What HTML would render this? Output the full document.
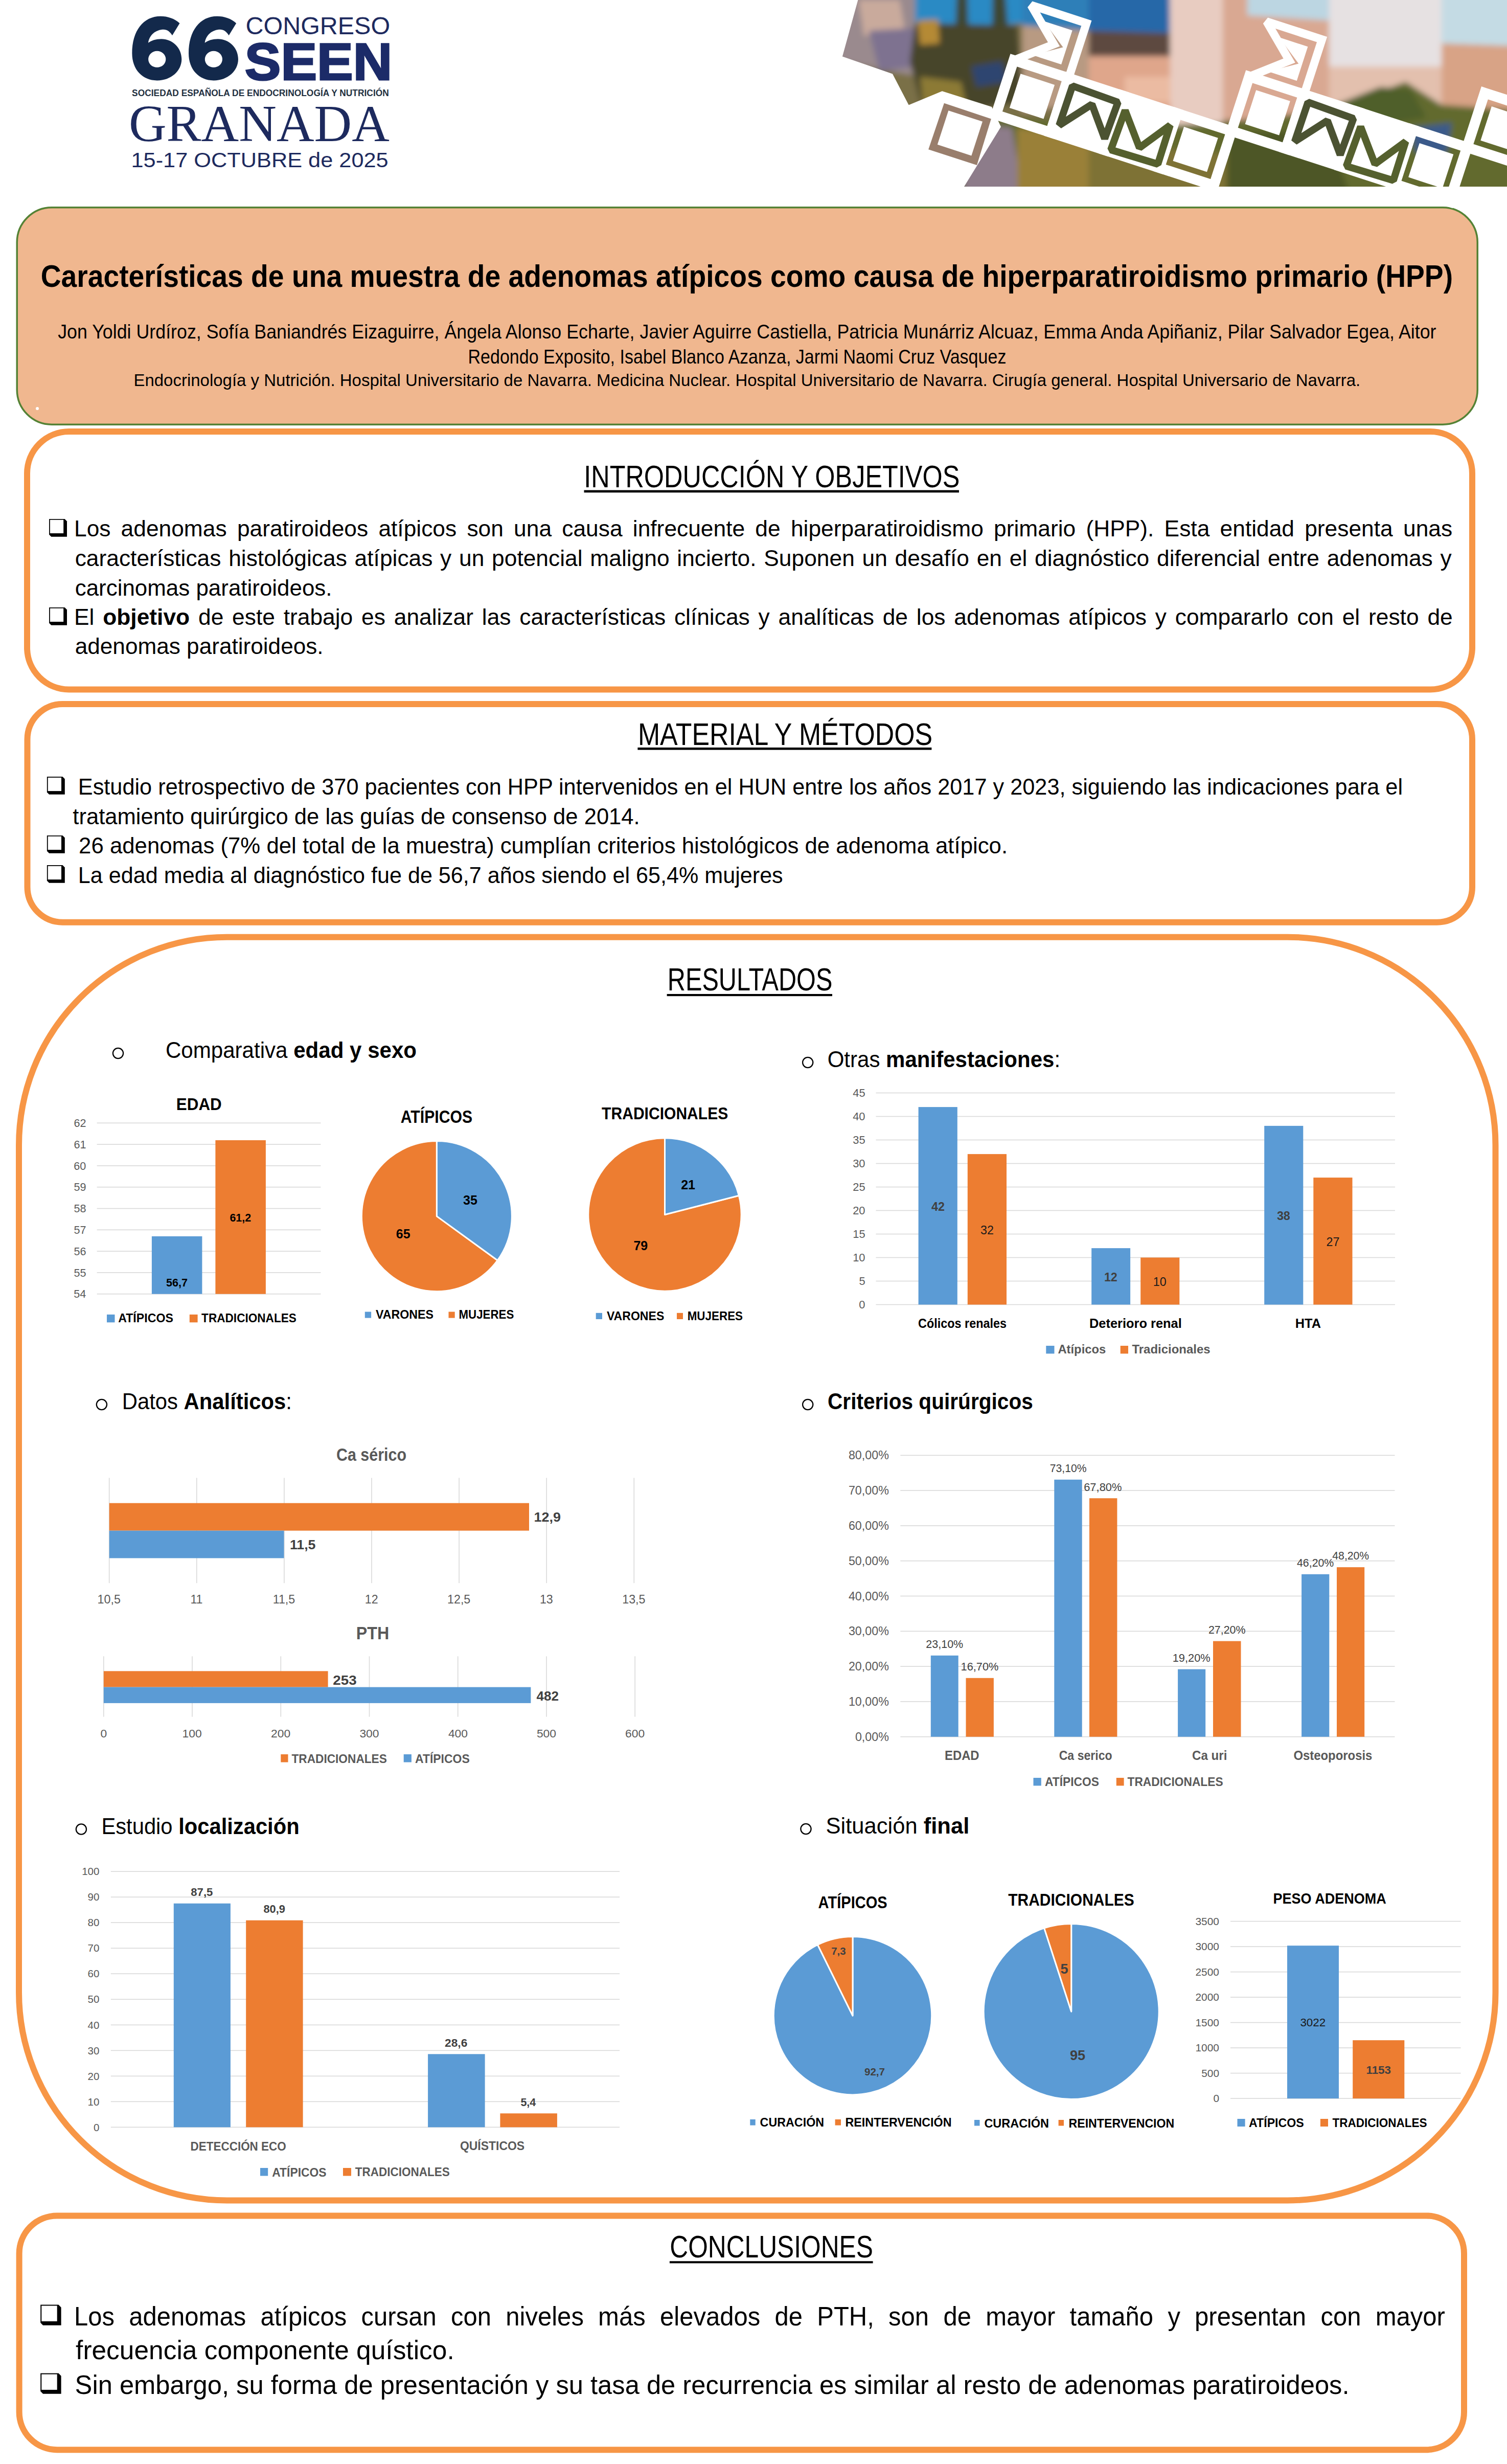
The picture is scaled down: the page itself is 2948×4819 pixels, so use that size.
<!DOCTYPE html>
<html lang="es"><head><meta charset="utf-8"><title>Poster SEEN 2025 - Adenomas atípicos</title>
<style>
html,body{margin:0;padding:0;background:#fff;}
body{width:2948px;height:4819px;overflow:hidden;position:relative;}
svg{position:absolute;left:0;top:0;font-family:"Liberation Sans",sans-serif;}
</style></head><body>
<svg width="2948" height="4819" viewBox="0 0 2948 4819">
<rect width="2948" height="4819" fill="#fff"/>
<rect x="33.25" y="405.75" width="2857" height="424.5" rx="68" fill="#F0B78F" stroke="#548235" stroke-width="3.5"/>
<circle cx="73" cy="799" r="3" fill="#fff"/>
<rect x="53" y="844" width="2827" height="504.4" rx="82" fill="none" stroke="#F79646" stroke-width="12"/>
<rect x="53.5" y="1377" width="2826.5" height="426.8" rx="69" fill="none" stroke="#F79646" stroke-width="12"/>
<rect x="37" y="1832.7" width="2888.5" height="2470.8" rx="407" fill="none" stroke="#F79646" stroke-width="12"/>
<rect x="37.6" y="4333.4" width="2826.4" height="457.8" rx="74" fill="none" stroke="#F79646" stroke-width="12"/>
<text x="79.7" y="561.0" font-size="61.34" font-weight="bold" textLength="2762.4" lengthAdjust="spacingAndGlyphs" >Características de una muestra de adenomas atípicos como causa de hiperparatiroidismo primario (HPP)</text>
<text x="113.2" y="661.8" font-size="38.23" textLength="2696.3" lengthAdjust="spacingAndGlyphs" >Jon Yoldi Urdíroz, Sofía Baniandrés Eizaguirre, Ángela Alonso Echarte, Javier Aguirre Castiella, Patricia Munárriz Alcuaz, Emma Anda Apiñaniz, Pilar Salvador Egea, Aitor</text>
<text x="915.5" y="710.6" font-size="38.23" textLength="1052.9" lengthAdjust="spacingAndGlyphs" >Redondo Exposito, Isabel Blanco Azanza, Jarmi Naomi Cruz Vasquez</text>
<text x="261.4" y="754.8" font-size="33.14" textLength="2399.9" lengthAdjust="spacingAndGlyphs" >Endocrinología y Nutrición. Hospital Universitario de Navarra. Medicina Nuclear. Hospital Universitario de Navarra. Cirugía general. Hospital Universario de Navarra.</text>
<text x="1142.2" y="952.7" font-size="61.05" textLength="735.2" lengthAdjust="spacingAndGlyphs" >INTRODUCCIÓN Y OBJETIVOS</text>
<rect x="1142.5" y="958.6" width="733.5" height="4.7" fill="#000"/>
<polygon points="96.1,1015.0 126.6,1015.0 131.0,1019.5 131.0,1049.8 100.3,1049.8 96.1,1045.4" fill="#000"/><rect x="97.9" y="1016.7" width="26.3" height="26.3" fill="#fff"/>
<text x="145.0" y="1049.3" font-size="44.33">Los</text>
<text x="236.6" y="1049.3" font-size="44.33">adenomas</text>
<text x="463.9" y="1049.3" font-size="44.33">paratiroideos</text>
<text x="740.4" y="1049.3" font-size="44.33">atípicos</text>
<text x="913.4" y="1049.3" font-size="44.33">son</text>
<text x="1005.1" y="1049.3" font-size="44.33">una</text>
<text x="1099.3" y="1049.3" font-size="44.33">causa</text>
<text x="1237.8" y="1049.3" font-size="44.33">infrecuente</text>
<text x="1477.3" y="1049.3" font-size="44.33">de</text>
<text x="1546.9" y="1049.3" font-size="44.33">hiperparatiroidismo</text>
<text x="1944.1" y="1049.3" font-size="44.33">primario</text>
<text x="2124.4" y="1049.3" font-size="44.33">(HPP).</text>
<text x="2277.6" y="1049.3" font-size="44.33">Esta</text>
<text x="2386.6" y="1049.3" font-size="44.33">entidad</text>
<text x="2552.2" y="1049.3" font-size="44.33">presenta</text>
<text x="2745.0" y="1049.3" font-size="44.33">unas</text>
<text x="146.7" y="1107.0" font-size="44.33">características</text>
<text x="447.2" y="1107.0" font-size="44.33">histológicas</text>
<text x="693.6" y="1107.0" font-size="44.33">atípicas</text>
<text x="861.1" y="1107.0" font-size="44.33">y</text>
<text x="898.1" y="1107.0" font-size="44.33">un</text>
<text x="962.1" y="1107.0" font-size="44.33">potencial</text>
<text x="1154.3" y="1107.0" font-size="44.33">maligno</text>
<text x="1324.3" y="1107.0" font-size="44.33">incierto.</text>
<text x="1494.3" y="1107.0" font-size="44.33">Suponen</text>
<text x="1686.5" y="1107.0" font-size="44.33">un</text>
<text x="1750.6" y="1107.0" font-size="44.33">desafío</text>
<text x="1910.7" y="1107.0" font-size="44.33">en</text>
<text x="1974.8" y="1107.0" font-size="44.33">el</text>
<text x="2024.0" y="1107.0" font-size="44.33">diagnóstico</text>
<text x="2263.1" y="1107.0" font-size="44.33">diferencial</text>
<text x="2479.9" y="1107.0" font-size="44.33">entre</text>
<text x="2595.7" y="1107.0" font-size="44.33">adenomas</text>
<text x="2817.4" y="1107.0" font-size="44.33">y</text>
<text x="146.7" y="1165.2" font-size="44.33" textLength="502.8" lengthAdjust="spacingAndGlyphs" >carcinomas paratiroideos.</text>
<polygon points="96.1,1187.9 126.6,1187.9 131.0,1192.5 131.0,1222.8 100.3,1222.8 96.1,1218.4" fill="#000"/><rect x="97.9" y="1189.7" width="26.3" height="26.3" fill="#fff"/>
<text x="145.0" y="1222.2" font-size="44.33">El</text>
<text x="201.2" y="1222.2" font-size="44.33"><tspan font-weight="bold">objetivo</tspan></text>
<text x="388.0" y="1222.2" font-size="44.33">de</text>
<text x="454.1" y="1222.2" font-size="44.33">este</text>
<text x="554.7" y="1222.2" font-size="44.33">trabajo</text>
<text x="707.1" y="1222.2" font-size="44.33">es</text>
<text x="770.8" y="1222.2" font-size="44.33">analizar</text>
<text x="942.8" y="1222.2" font-size="44.33">las</text>
<text x="1016.3" y="1222.2" font-size="44.33">características</text>
<text x="1318.9" y="1222.2" font-size="44.33">clínicas</text>
<text x="1483.6" y="1222.2" font-size="44.33">y</text>
<text x="1522.6" y="1222.2" font-size="44.33">analíticas</text>
<text x="1726.7" y="1222.2" font-size="44.33">de</text>
<text x="1792.8" y="1222.2" font-size="44.33">los</text>
<text x="1866.3" y="1222.2" font-size="44.33">adenomas</text>
<text x="2090.2" y="1222.2" font-size="44.33">atípicos</text>
<text x="2259.8" y="1222.2" font-size="44.33">y</text>
<text x="2298.8" y="1222.2" font-size="44.33">compararlo</text>
<text x="2537.4" y="1222.2" font-size="44.33">con</text>
<text x="2625.7" y="1222.2" font-size="44.33">el</text>
<text x="2677.0" y="1222.2" font-size="44.33">resto</text>
<text x="2792.4" y="1222.2" font-size="44.33">de</text>
<text x="146.7" y="1278.6" font-size="44.33" textLength="485.9" lengthAdjust="spacingAndGlyphs" >adenomas paratiroideos.</text>
<text x="1247.9" y="1457.3" font-size="61.05" textLength="576.2" lengthAdjust="spacingAndGlyphs" >MATERIAL Y MÉTODOS</text>
<rect x="1247.4" y="1462.0" width="575.0" height="4.6" fill="#000"/>
<polygon points="91.9,1519.0 122.4,1519.0 126.8,1523.5 126.8,1553.8 96.1,1553.8 91.9,1549.5" fill="#000"/><rect x="93.7" y="1520.8" width="26.3" height="26.3" fill="#fff"/>
<text x="152.8" y="1553.7" font-size="44.33" textLength="2591.2" lengthAdjust="spacingAndGlyphs" >Estudio retrospectivo de 370 pacientes con HPP intervenidos en el HUN entre los años 2017 y 2023, siguiendo las indicaciones para el</text>
<text x="142.3" y="1611.6" font-size="44.33" textLength="1109.4" lengthAdjust="spacingAndGlyphs" >tratamiento quirúrgico de las guías de consenso de 2014.</text>
<polygon points="91.9,1633.9 122.4,1633.9 126.8,1638.5 126.8,1668.8 96.1,1668.8 91.9,1664.4" fill="#000"/><rect x="93.7" y="1635.7" width="26.3" height="26.3" fill="#fff"/>
<text x="154.1" y="1669.2" font-size="44.33" textLength="1817.0" lengthAdjust="spacingAndGlyphs" >26 adenomas (7% del total de la muestra) cumplían criterios histológicos de adenoma atípico.</text>
<polygon points="91.9,1692.0 122.4,1692.0 126.8,1696.5 126.8,1726.8 96.1,1726.8 91.9,1722.5" fill="#000"/><rect x="93.7" y="1693.8" width="26.3" height="26.3" fill="#fff"/>
<text x="152.8" y="1726.8" font-size="44.33" textLength="1378.9" lengthAdjust="spacingAndGlyphs" >La edad media al diagnóstico fue de 56,7 años siendo el 65,4% mujeres</text>
<text x="1305.8" y="1937.2" font-size="62.06" textLength="322.6" lengthAdjust="spacingAndGlyphs" >RESULTADOS</text>
<rect x="1304.6" y="1944.0" width="323.4" height="4.2" fill="#000"/>
<text x="1310.3" y="4415.0" font-size="61.92" textLength="397.5" lengthAdjust="spacingAndGlyphs" >CONCLUSIONES</text>
<rect x="1309.9" y="4422.3" width="397.7" height="4.1" fill="#000"/>
<polygon points="79.2,4507.5 114.5,4507.5 119.6,4512.8 119.6,4547.8 84.1,4547.8 79.2,4542.7" fill="#000"/><rect x="81.3" y="4509.5" width="30.4" height="30.4" fill="#fff"/>
<text x="145.0" y="4548.0" font-size="51.60" textLength="79.0" lengthAdjust="spacingAndGlyphs">Los</text>
<text x="252.3" y="4548.0" font-size="51.60" textLength="228.9" lengthAdjust="spacingAndGlyphs">adenomas</text>
<text x="509.4" y="4548.0" font-size="51.60" textLength="168.9" lengthAdjust="spacingAndGlyphs">atípicos</text>
<text x="706.6" y="4548.0" font-size="51.60" textLength="147.1" lengthAdjust="spacingAndGlyphs">cursan</text>
<text x="882.0" y="4548.0" font-size="51.60" textLength="79.0" lengthAdjust="spacingAndGlyphs">con</text>
<text x="989.3" y="4548.0" font-size="51.60" textLength="152.6" lengthAdjust="spacingAndGlyphs">niveles</text>
<text x="1170.1" y="4548.0" font-size="51.60" textLength="92.6" lengthAdjust="spacingAndGlyphs">más</text>
<text x="1291.0" y="4548.0" font-size="51.60" textLength="196.2" lengthAdjust="spacingAndGlyphs">elevados</text>
<text x="1515.4" y="4548.0" font-size="51.60" textLength="54.5" lengthAdjust="spacingAndGlyphs">de</text>
<text x="1598.2" y="4548.0" font-size="51.60" textLength="111.7" lengthAdjust="spacingAndGlyphs">PTH,</text>
<text x="1738.1" y="4548.0" font-size="51.60" textLength="79.0" lengthAdjust="spacingAndGlyphs">son</text>
<text x="1845.4" y="4548.0" font-size="51.60" textLength="54.5" lengthAdjust="spacingAndGlyphs">de</text>
<text x="1928.2" y="4548.0" font-size="51.60" textLength="136.2" lengthAdjust="spacingAndGlyphs">mayor</text>
<text x="2092.6" y="4548.0" font-size="51.60" textLength="163.5" lengthAdjust="spacingAndGlyphs">tamaño</text>
<text x="2284.4" y="4548.0" font-size="51.60" textLength="24.5" lengthAdjust="spacingAndGlyphs">y</text>
<text x="2337.1" y="4548.0" font-size="51.60" textLength="218.0" lengthAdjust="spacingAndGlyphs">presentan</text>
<text x="2583.4" y="4548.0" font-size="51.60" textLength="79.0" lengthAdjust="spacingAndGlyphs">con</text>
<text x="2690.7" y="4548.0" font-size="51.60" textLength="136.2" lengthAdjust="spacingAndGlyphs">mayor</text>
<text x="148.1" y="4614.4" font-size="51.60" textLength="740.6" lengthAdjust="spacingAndGlyphs" >frecuencia componente quístico.</text>
<polygon points="79.2,4641.5 114.5,4641.5 119.6,4646.8 119.6,4681.8 84.1,4681.8 79.2,4676.7" fill="#000"/><rect x="81.3" y="4643.5" width="30.4" height="30.4" fill="#fff"/>
<text x="146.6" y="4682.0" font-size="51.60" textLength="2492.9" lengthAdjust="spacingAndGlyphs" >Sin embargo, su forma de presentación y su tasa de recurrencia es similar al resto de adenomas paratiroideos.</text>
<circle cx="231.0" cy="2060.0" r="10.1" fill="none" stroke="#000" stroke-width="2.3"/>
<text x="323.9" y="2068.8" font-size="44.33" textLength="491.2" lengthAdjust="spacingAndGlyphs" >Comparativa <tspan font-weight="bold">edad y sexo</tspan></text>
<circle cx="1580.2" cy="2078.0" r="10.1" fill="none" stroke="#000" stroke-width="2.3"/>
<text x="1618.7" y="2087.4" font-size="44.33" textLength="455.4" lengthAdjust="spacingAndGlyphs" >Otras <tspan font-weight="bold">manifestaciones</tspan>:</text>
<circle cx="198.9" cy="2747.0" r="10.1" fill="none" stroke="#000" stroke-width="2.3"/>
<text x="238.7" y="2755.7" font-size="44.33" textLength="332.3" lengthAdjust="spacingAndGlyphs" >Datos <tspan font-weight="bold">Analíticos</tspan>:</text>
<circle cx="1580.2" cy="2747.0" r="10.1" fill="none" stroke="#000" stroke-width="2.3"/>
<text x="1619.0" y="2755.7" font-size="44.33" font-weight="bold" textLength="401.8" lengthAdjust="spacingAndGlyphs" >Criterios quirúrgicos</text>
<circle cx="158.9" cy="3577.5" r="10.1" fill="none" stroke="#000" stroke-width="2.3"/>
<text x="198.4" y="3587.0" font-size="44.33" textLength="387.3" lengthAdjust="spacingAndGlyphs" >Estudio <tspan font-weight="bold">localización</tspan></text>
<circle cx="1576.5" cy="3577.0" r="10.1" fill="none" stroke="#000" stroke-width="2.3"/>
<text x="1615.4" y="3586.2" font-size="44.33" textLength="280.9" lengthAdjust="spacingAndGlyphs" >Situación <tspan font-weight="bold">final</tspan></text>
<text x="344.8" y="2171.0" font-size="33.28" font-weight="bold" textLength="88.9" lengthAdjust="spacingAndGlyphs" >EDAD</text>
<rect x="189.6" y="2195.5" width="437.9" height="1.6" fill="#D9D9D9"/>
<text x="144.6" y="2203.9" font-size="21.57" fill="#595959" >62</text>
<rect x="189.6" y="2237.3" width="437.9" height="1.6" fill="#D9D9D9"/>
<text x="144.5" y="2245.7" font-size="21.57" fill="#595959" >61</text>
<rect x="189.6" y="2279.1" width="437.9" height="1.6" fill="#D9D9D9"/>
<text x="144.3" y="2287.5" font-size="21.57" fill="#595959" >60</text>
<rect x="189.6" y="2320.9" width="437.9" height="1.6" fill="#D9D9D9"/>
<text x="144.5" y="2329.3" font-size="21.57" fill="#595959" >59</text>
<rect x="189.6" y="2362.7" width="437.9" height="1.6" fill="#D9D9D9"/>
<text x="144.4" y="2371.1" font-size="21.57" fill="#595959" >58</text>
<rect x="189.6" y="2404.5" width="437.9" height="1.6" fill="#D9D9D9"/>
<text x="144.6" y="2412.9" font-size="21.57" fill="#595959" >57</text>
<rect x="189.6" y="2446.3" width="437.9" height="1.6" fill="#D9D9D9"/>
<text x="144.4" y="2454.7" font-size="21.57" fill="#595959" >56</text>
<rect x="189.6" y="2488.1" width="437.9" height="1.6" fill="#D9D9D9"/>
<text x="144.4" y="2496.5" font-size="21.57" fill="#595959" >55</text>
<rect x="189.6" y="2529.9" width="437.9" height="1.6" fill="#D9D9D9"/>
<text x="144.2" y="2538.3" font-size="21.57" fill="#595959" >54</text>
<rect x="296.9" y="2417.9" width="98.5" height="112.8" fill="#5B9BD5"/>
<rect x="421.4" y="2230.0" width="98.5" height="300.7" fill="#ED7D31"/>
<text x="325.0" y="2515.7" font-size="21.51" font-weight="bold" >56,7</text>
<text x="449.4" y="2389.0" font-size="21.51" font-weight="bold" >61,2</text>
<rect x="209.0" y="2570.9" width="15.5" height="15.4" fill="#5B9BD5"/>
<text x="231.2" y="2586.0" font-size="23.26" font-weight="bold" textLength="107.7" lengthAdjust="spacingAndGlyphs" >ATÍPICOS</text>
<rect x="370.8" y="2570.9" width="15.8" height="15.4" fill="#ED7D31"/>
<text x="394.1" y="2586.0" font-size="23.26" font-weight="bold" textLength="185.8" lengthAdjust="spacingAndGlyphs" >TRADICIONALES</text>
<text x="783.8" y="2195.7" font-size="34.74" font-weight="bold" textLength="140.4" lengthAdjust="spacingAndGlyphs" >ATÍPICOS</text>
<path d="M854.4 2378.6L973.3 2465.0A147.0 147.0 0 1 1 854.4 2231.6Z" fill="#ED7D31" stroke="#fff" stroke-width="3" stroke-linejoin="round"/>
<path d="M854.4 2378.6L854.4 2231.6A147.0 147.0 0 0 1 973.3 2465.0Z" fill="#5B9BD5" stroke="#fff" stroke-width="3" stroke-linejoin="round"/>
<text x="906.1" y="2355.7" font-size="25.00" font-weight="bold" >35</text>
<text x="774.8" y="2422.1" font-size="25.00" font-weight="bold" >65</text>
<rect x="713.8" y="2565.5" width="12.3" height="12.1" fill="#5B9BD5"/>
<text x="734.9" y="2579.3" font-size="24.71" font-weight="bold" textLength="113.0" lengthAdjust="spacingAndGlyphs" >VARONES</text>
<rect x="877.5" y="2565.5" width="12.2" height="12.1" fill="#ED7D31"/>
<text x="897.5" y="2579.3" font-size="24.71" font-weight="bold" textLength="107.9" lengthAdjust="spacingAndGlyphs" >MUJERES</text>
<text x="1177.1" y="2188.8" font-size="33.87" font-weight="bold" textLength="247.2" lengthAdjust="spacingAndGlyphs" >TRADICIONALES</text>
<path d="M1300.5 2375.5L1445.5 2338.3A149.7 149.7 0 1 1 1300.5 2225.8Z" fill="#ED7D31" stroke="#fff" stroke-width="3" stroke-linejoin="round"/>
<path d="M1300.5 2375.5L1300.5 2225.8A149.7 149.7 0 0 1 1445.5 2338.3Z" fill="#5B9BD5" stroke="#fff" stroke-width="3" stroke-linejoin="round"/>
<text x="1332.2" y="2325.5" font-size="25.00" font-weight="bold" >21</text>
<text x="1239.4" y="2444.9" font-size="25.00" font-weight="bold" >79</text>
<rect x="1165.7" y="2567.8" width="12.3" height="12.2" fill="#5B9BD5"/>
<text x="1186.9" y="2582.3" font-size="24.71" font-weight="bold" textLength="112.4" lengthAdjust="spacingAndGlyphs" >VARONES</text>
<rect x="1324.0" y="2567.8" width="12.0" height="12.2" fill="#ED7D31"/>
<text x="1344.7" y="2582.3" font-size="24.71" font-weight="bold" textLength="108.4" lengthAdjust="spacingAndGlyphs" >MUJERES</text>
<rect x="1713.5" y="2136.7" width="1015.5" height="1.6" fill="#D9D9D9"/>
<text x="1668.3" y="2145.1" font-size="21.86" fill="#595959" >45</text>
<rect x="1713.5" y="2182.7" width="1015.5" height="1.6" fill="#D9D9D9"/>
<text x="1668.2" y="2191.1" font-size="21.86" fill="#595959" >40</text>
<rect x="1713.5" y="2228.7" width="1015.5" height="1.6" fill="#D9D9D9"/>
<text x="1668.3" y="2237.1" font-size="21.86" fill="#595959" >35</text>
<rect x="1713.5" y="2274.7" width="1015.5" height="1.6" fill="#D9D9D9"/>
<text x="1668.2" y="2283.1" font-size="21.86" fill="#595959" >30</text>
<rect x="1713.5" y="2320.7" width="1015.5" height="1.6" fill="#D9D9D9"/>
<text x="1668.3" y="2329.1" font-size="21.86" fill="#595959" >25</text>
<rect x="1713.5" y="2366.7" width="1015.5" height="1.6" fill="#D9D9D9"/>
<text x="1668.2" y="2375.1" font-size="21.86" fill="#595959" >20</text>
<rect x="1713.5" y="2412.7" width="1015.5" height="1.6" fill="#D9D9D9"/>
<text x="1668.3" y="2421.1" font-size="21.86" fill="#595959" >15</text>
<rect x="1713.5" y="2458.7" width="1015.5" height="1.6" fill="#D9D9D9"/>
<text x="1668.2" y="2467.1" font-size="21.86" fill="#595959" >10</text>
<rect x="1713.5" y="2504.7" width="1015.5" height="1.6" fill="#D9D9D9"/>
<text x="1680.4" y="2513.1" font-size="21.86" fill="#595959" >5</text>
<rect x="1713.5" y="2550.7" width="1015.5" height="1.6" fill="#D9D9D9"/>
<text x="1680.3" y="2559.1" font-size="21.86" fill="#595959" >0</text>
<rect x="1796.6" y="2165.1" width="76.2" height="386.4" fill="#5B9BD5"/>
<rect x="1892.8" y="2257.1" width="76.2" height="294.4" fill="#ED7D31"/>
<rect x="2135.2" y="2441.1" width="75.9" height="110.4" fill="#5B9BD5"/>
<rect x="2231.2" y="2459.5" width="76.1" height="92.0" fill="#ED7D31"/>
<rect x="2473.2" y="2201.9" width="76.1" height="349.6" fill="#5B9BD5"/>
<rect x="2569.3" y="2303.1" width="76.2" height="248.4" fill="#ED7D31"/>
<text x="1822.1" y="2367.8" font-size="23.29" font-weight="bold" fill="#404040" >42</text>
<text x="1918.1" y="2413.8" font-size="23.29" fill="#1a1a1a" >32</text>
<text x="2159.9" y="2506.2" font-size="23.29" font-weight="bold" fill="#404040" >12</text>
<text x="2255.8" y="2514.6" font-size="23.29" fill="#1a1a1a" >10</text>
<text x="2497.9" y="2386.0" font-size="23.29" font-weight="bold" fill="#404040" >38</text>
<text x="2594.5" y="2437.1" font-size="23.29" fill="#1a1a1a" >27</text>
<text x="1796.1" y="2596.5" font-size="25.73" font-weight="bold" textLength="172.9" lengthAdjust="spacingAndGlyphs" >Cólicos renales</text>
<text x="2131.0" y="2597.0" font-size="25.73" font-weight="bold" textLength="180.8" lengthAdjust="spacingAndGlyphs" >Deterioro renal</text>
<text x="2533.8" y="2597.0" font-size="25.73" font-weight="bold" textLength="50.1" lengthAdjust="spacingAndGlyphs" >HTA</text>
<rect x="2046.3" y="2632.0" width="16.2" height="15.4" fill="#5B9BD5"/>
<text x="2069.4" y="2647.4" font-size="24.71" font-weight="bold" fill="#595959" textLength="93.9" lengthAdjust="spacingAndGlyphs" >Atípicos</text>
<rect x="2191.7" y="2632.0" width="15.3" height="15.4" fill="#ED7D31"/>
<text x="2214.4" y="2647.4" font-size="24.71" font-weight="bold" fill="#595959" textLength="153.3" lengthAdjust="spacingAndGlyphs" >Tradicionales</text>
<text x="657.9" y="2856.5" font-size="34.88" font-weight="bold" fill="#595959" textLength="137.2" lengthAdjust="spacingAndGlyphs" >Ca sérico</text>
<rect x="212.9" y="2890.4" width="1.6" height="205.8" fill="#D9D9D9"/>
<text x="190.6" y="3135.7" font-size="23.29" fill="#595959" >10,5</text>
<rect x="384.0" y="2890.4" width="1.6" height="205.8" fill="#D9D9D9"/>
<text x="372.4" y="3135.7" font-size="23.29" fill="#595959" >11</text>
<rect x="555.1" y="2890.4" width="1.6" height="205.8" fill="#D9D9D9"/>
<text x="533.7" y="3135.7" font-size="23.29" fill="#595959" >11,5</text>
<rect x="726.2" y="2890.4" width="1.6" height="205.8" fill="#D9D9D9"/>
<text x="713.8" y="3135.7" font-size="23.29" fill="#595959" >12</text>
<rect x="897.3" y="2890.4" width="1.6" height="205.8" fill="#D9D9D9"/>
<text x="875.0" y="3135.7" font-size="23.29" fill="#595959" >12,5</text>
<rect x="1068.4" y="2890.4" width="1.6" height="205.8" fill="#D9D9D9"/>
<text x="1055.9" y="3135.7" font-size="23.29" fill="#595959" >13</text>
<rect x="1239.5" y="2890.4" width="1.6" height="205.8" fill="#D9D9D9"/>
<text x="1217.2" y="3135.7" font-size="23.29" fill="#595959" >13,5</text>
<rect x="213.7" y="2939.7" width="821.3" height="53.9" fill="#ED7D31"/>
<rect x="213.7" y="2993.6" width="341.8" height="53.8" fill="#5B9BD5"/>
<text x="1044.4" y="2976.0" font-size="25.73" font-weight="bold" fill="#404040" textLength="52.5" lengthAdjust="spacingAndGlyphs" >12,9</text>
<text x="566.9" y="3029.8" font-size="25.73" font-weight="bold" fill="#404040" textLength="50.6" lengthAdjust="spacingAndGlyphs" >11,5</text>
<text x="696.7" y="3205.7" font-size="34.45" font-weight="bold" fill="#595959" textLength="64.5" lengthAdjust="spacingAndGlyphs" >PTH</text>
<rect x="202.0" y="3239.3" width="1.6" height="118.3" fill="#D9D9D9"/>
<text x="196.4" y="3398.0" font-size="22.86" fill="#595959" >0</text>
<rect x="375.2" y="3239.3" width="1.6" height="118.3" fill="#D9D9D9"/>
<text x="356.5" y="3398.0" font-size="22.86" fill="#595959" >100</text>
<rect x="548.5" y="3239.3" width="1.6" height="118.3" fill="#D9D9D9"/>
<text x="530.1" y="3398.0" font-size="22.86" fill="#595959" >200</text>
<rect x="721.7" y="3239.3" width="1.6" height="118.3" fill="#D9D9D9"/>
<text x="703.4" y="3398.0" font-size="22.86" fill="#595959" >300</text>
<rect x="894.9" y="3239.3" width="1.6" height="118.3" fill="#D9D9D9"/>
<text x="876.9" y="3398.0" font-size="22.86" fill="#595959" >400</text>
<rect x="1068.2" y="3239.3" width="1.6" height="118.3" fill="#D9D9D9"/>
<text x="1049.9" y="3398.0" font-size="22.86" fill="#595959" >500</text>
<rect x="1241.4" y="3239.3" width="1.6" height="118.3" fill="#D9D9D9"/>
<text x="1223.0" y="3398.0" font-size="22.86" fill="#595959" >600</text>
<rect x="202.8" y="3268.3" width="438.8" height="31.3" fill="#ED7D31"/>
<rect x="202.8" y="3299.6" width="835.6" height="31.3" fill="#5B9BD5"/>
<text x="651.3" y="3295.0" font-size="25.73" font-weight="bold" fill="#404040" textLength="46.3" lengthAdjust="spacingAndGlyphs" >253</text>
<text x="1049.5" y="3325.5" font-size="25.73" font-weight="bold" fill="#404040" textLength="43.4" lengthAdjust="spacingAndGlyphs" >482</text>
<rect x="549.3" y="3431.0" width="14.2" height="15.5" fill="#ED7D31"/>
<text x="570.4" y="3447.6" font-size="24.71" font-weight="bold" fill="#595959" textLength="186.5" lengthAdjust="spacingAndGlyphs" >TRADICIONALES</text>
<rect x="789.7" y="3431.0" width="15.2" height="15.5" fill="#5B9BD5"/>
<text x="812.0" y="3447.6" font-size="24.71" font-weight="bold" fill="#595959" textLength="106.8" lengthAdjust="spacingAndGlyphs" >ATÍPICOS</text>
<rect x="1761.3" y="2845.5" width="967.2" height="1.6" fill="#D9D9D9"/>
<text x="1659.9" y="2854.3" font-size="23.29" fill="#595959" >80,00%</text>
<rect x="1761.3" y="2914.3" width="967.2" height="1.6" fill="#D9D9D9"/>
<text x="1659.9" y="2923.1" font-size="23.29" fill="#595959" >70,00%</text>
<rect x="1761.3" y="2983.1" width="967.2" height="1.6" fill="#D9D9D9"/>
<text x="1659.9" y="2991.9" font-size="23.29" fill="#595959" >60,00%</text>
<rect x="1761.3" y="3051.9" width="967.2" height="1.6" fill="#D9D9D9"/>
<text x="1659.9" y="3060.7" font-size="23.29" fill="#595959" >50,00%</text>
<rect x="1761.3" y="3120.7" width="967.2" height="1.6" fill="#D9D9D9"/>
<text x="1659.9" y="3129.5" font-size="23.29" fill="#595959" >40,00%</text>
<rect x="1761.3" y="3189.5" width="967.2" height="1.6" fill="#D9D9D9"/>
<text x="1659.9" y="3198.3" font-size="23.29" fill="#595959" >30,00%</text>
<rect x="1761.3" y="3258.3" width="967.2" height="1.6" fill="#D9D9D9"/>
<text x="1659.9" y="3267.1" font-size="23.29" fill="#595959" >20,00%</text>
<rect x="1761.3" y="3327.1" width="967.2" height="1.6" fill="#D9D9D9"/>
<text x="1659.9" y="3335.9" font-size="23.29" fill="#595959" >10,00%</text>
<rect x="1761.3" y="3395.9" width="967.2" height="1.6" fill="#D9D9D9"/>
<text x="1672.9" y="3404.7" font-size="23.29" fill="#595959" >0,00%</text>
<rect x="1820.8" y="3237.8" width="53.9" height="158.9" fill="#5B9BD5"/>
<rect x="1889.5" y="3281.8" width="54.4" height="114.9" fill="#ED7D31"/>
<rect x="2062.3" y="2893.8" width="54.4" height="502.9" fill="#5B9BD5"/>
<rect x="2131.0" y="2930.2" width="54.4" height="466.5" fill="#ED7D31"/>
<rect x="2304.1" y="3264.6" width="54.1" height="132.1" fill="#5B9BD5"/>
<rect x="2373.0" y="3209.6" width="54.5" height="187.1" fill="#ED7D31"/>
<rect x="2546.1" y="3078.8" width="54.2" height="317.9" fill="#5B9BD5"/>
<rect x="2615.0" y="3065.1" width="54.2" height="331.6" fill="#ED7D31"/>
<text x="1811.3" y="3222.6" font-size="21.86" fill="#404040" textLength="72.9" lengthAdjust="spacingAndGlyphs" >23,10%</text>
<text x="1879.6" y="3266.7" font-size="21.86" fill="#404040" textLength="73.8" lengthAdjust="spacingAndGlyphs" >16,70%</text>
<text x="2053.8" y="2878.8" font-size="21.86" fill="#404040" textLength="71.8" lengthAdjust="spacingAndGlyphs" >73,10%</text>
<text x="2120.2" y="2916.0" font-size="21.86" fill="#404040" textLength="74.3" lengthAdjust="spacingAndGlyphs" >67,80%</text>
<text x="2293.7" y="3249.9" font-size="21.86" fill="#404040" textLength="74.0" lengthAdjust="spacingAndGlyphs" >19,20%</text>
<text x="2363.9" y="3195.0" font-size="21.86" fill="#404040" textLength="72.6" lengthAdjust="spacingAndGlyphs" >27,20%</text>
<text x="2537.0" y="3064.0" font-size="21.86" fill="#404040" textLength="72.3" lengthAdjust="spacingAndGlyphs" >46,20%</text>
<text x="2606.3" y="3050.0" font-size="21.86" fill="#404040" textLength="71.9" lengthAdjust="spacingAndGlyphs" >48,20%</text>
<text x="1848.0" y="3441.8" font-size="25.00" font-weight="bold" fill="#595959" textLength="67.6" lengthAdjust="spacingAndGlyphs" >EDAD</text>
<text x="2071.7" y="3441.8" font-size="25.00" font-weight="bold" fill="#595959" textLength="104.0" lengthAdjust="spacingAndGlyphs" >Ca serico</text>
<text x="2332.1" y="3441.8" font-size="25.00" font-weight="bold" fill="#595959" textLength="68.3" lengthAdjust="spacingAndGlyphs" >Ca uri</text>
<text x="2530.4" y="3441.8" font-size="25.00" font-weight="bold" fill="#595959" textLength="154.0" lengthAdjust="spacingAndGlyphs" >Osteoporosis</text>
<rect x="2021.5" y="3477.0" width="15.3" height="15.4" fill="#5B9BD5"/>
<text x="2044.1" y="3493.0" font-size="24.71" font-weight="bold" fill="#595959" textLength="105.9" lengthAdjust="spacingAndGlyphs" >ATÍPICOS</text>
<rect x="2183.8" y="3477.0" width="14.8" height="15.4" fill="#ED7D31"/>
<text x="2205.5" y="3493.0" font-size="24.71" font-weight="bold" fill="#595959" textLength="187.1" lengthAdjust="spacingAndGlyphs" >TRADICIONALES</text>
<rect x="216.8" y="3659.4" width="995.3" height="1.6" fill="#D9D9D9"/>
<text x="160.2" y="3667.4" font-size="20.57" fill="#595959" >100</text>
<rect x="216.8" y="3709.4" width="995.3" height="1.6" fill="#D9D9D9"/>
<text x="171.6" y="3717.4" font-size="20.57" fill="#595959" >90</text>
<rect x="216.8" y="3759.4" width="995.3" height="1.6" fill="#D9D9D9"/>
<text x="171.6" y="3767.4" font-size="20.57" fill="#595959" >80</text>
<rect x="216.8" y="3809.4" width="995.3" height="1.6" fill="#D9D9D9"/>
<text x="171.6" y="3817.4" font-size="20.57" fill="#595959" >70</text>
<rect x="216.8" y="3859.4" width="995.3" height="1.6" fill="#D9D9D9"/>
<text x="171.6" y="3867.4" font-size="20.57" fill="#595959" >60</text>
<rect x="216.8" y="3909.4" width="995.3" height="1.6" fill="#D9D9D9"/>
<text x="171.6" y="3917.4" font-size="20.57" fill="#595959" >50</text>
<rect x="216.8" y="3959.5" width="995.3" height="1.6" fill="#D9D9D9"/>
<text x="171.6" y="3967.5" font-size="20.57" fill="#595959" >40</text>
<rect x="216.8" y="4009.5" width="995.3" height="1.6" fill="#D9D9D9"/>
<text x="171.6" y="4017.5" font-size="20.57" fill="#595959" >30</text>
<rect x="216.8" y="4059.5" width="995.3" height="1.6" fill="#D9D9D9"/>
<text x="171.6" y="4067.5" font-size="20.57" fill="#595959" >20</text>
<rect x="216.8" y="4109.5" width="995.3" height="1.6" fill="#D9D9D9"/>
<text x="171.6" y="4117.5" font-size="20.57" fill="#595959" >10</text>
<rect x="216.8" y="4159.5" width="995.3" height="1.6" fill="#D9D9D9"/>
<text x="183.0" y="4167.5" font-size="20.57" fill="#595959" >0</text>
<rect x="339.8" y="3722.7" width="111.1" height="437.6" fill="#5B9BD5"/>
<rect x="481.2" y="3755.7" width="111.4" height="404.6" fill="#ED7D31"/>
<rect x="837.1" y="4017.3" width="111.5" height="143.0" fill="#5B9BD5"/>
<rect x="978.4" y="4133.3" width="111.5" height="27.0" fill="#ED7D31"/>
<text x="373.3" y="3708.0" font-size="21.37" font-weight="bold" fill="#404040" textLength="43.1" lengthAdjust="spacingAndGlyphs" >87,5</text>
<text x="515.5" y="3741.0" font-size="21.37" font-weight="bold" fill="#404040" textLength="42.4" lengthAdjust="spacingAndGlyphs" >80,9</text>
<text x="870.1" y="4003.1" font-size="21.37" font-weight="bold" fill="#404040" textLength="44.2" lengthAdjust="spacingAndGlyphs" >28,6</text>
<text x="1018.4" y="4119.0" font-size="21.37" font-weight="bold" fill="#404040" textLength="29.9" lengthAdjust="spacingAndGlyphs" >5,4</text>
<text x="372.5" y="4205.7" font-size="24.27" font-weight="bold" fill="#595959" textLength="187.3" lengthAdjust="spacingAndGlyphs" >DETECCIÓN ECO</text>
<text x="899.9" y="4205.4" font-size="24.27" font-weight="bold" fill="#595959" textLength="126.3" lengthAdjust="spacingAndGlyphs" >QUÍSTICOS</text>
<rect x="509.0" y="4240.0" width="15.2" height="15.5" fill="#5B9BD5"/>
<text x="532.3" y="4256.6" font-size="24.27" font-weight="bold" fill="#595959" textLength="106.2" lengthAdjust="spacingAndGlyphs" >ATÍPICOS</text>
<rect x="671.0" y="4240.0" width="16.0" height="15.5" fill="#ED7D31"/>
<text x="694.8" y="4256.3" font-size="24.27" font-weight="bold" fill="#595959" textLength="185.0" lengthAdjust="spacingAndGlyphs" >TRADICIONALES</text>
<text x="1600.6" y="3732.2" font-size="33.43" font-weight="bold" textLength="135.1" lengthAdjust="spacingAndGlyphs" >ATÍPICOS</text>
<path d="M1668.0 3942.1L1668.0 3787.4A154.7 154.7 0 1 1 1599.5 3803.4Z" fill="#5B9BD5" stroke="#fff" stroke-width="3" stroke-linejoin="round"/>
<path d="M1668.0 3942.1L1599.5 3803.4A154.7 154.7 0 0 1 1668.0 3787.4Z" fill="#ED7D31" stroke="#fff" stroke-width="3" stroke-linejoin="round"/>
<text x="1626.2" y="3822.6" font-size="20.57" font-weight="bold" fill="#404040" >7,3</text>
<text x="1691.0" y="4059.2" font-size="20.57" font-weight="bold" fill="#404040" >92,7</text>
<rect x="1467.3" y="4145.0" width="10.4" height="11.6" fill="#5B9BD5"/>
<text x="1486.6" y="4159.4" font-size="24.71" font-weight="bold" textLength="125.5" lengthAdjust="spacingAndGlyphs" >CURACIÓN</text>
<rect x="1633.6" y="4145.0" width="11.4" height="11.6" fill="#ED7D31"/>
<text x="1653.5" y="4159.4" font-size="24.71" font-weight="bold" textLength="208.0" lengthAdjust="spacingAndGlyphs" >REINTERVENCIÓN</text>
<text x="1972.2" y="3726.5" font-size="33.43" font-weight="bold" textLength="246.7" lengthAdjust="spacingAndGlyphs" >TRADICIONALES</text>
<path d="M2095.7 3934.0L2095.7 3762.5A171.5 171.5 0 1 1 2042.7 3770.9Z" fill="#5B9BD5" stroke="#fff" stroke-width="3" stroke-linejoin="round"/>
<path d="M2095.7 3934.0L2042.7 3770.9A171.5 171.5 0 0 1 2095.7 3762.5Z" fill="#ED7D31" stroke="#fff" stroke-width="3" stroke-linejoin="round"/>
<text x="2074.5" y="3860.1" font-size="27.14" font-weight="bold" fill="#404040" >5</text>
<text x="2092.9" y="4028.7" font-size="27.14" font-weight="bold" fill="#404040" >95</text>
<rect x="1906.0" y="4146.0" width="10.5" height="11.5" fill="#5B9BD5"/>
<text x="1925.4" y="4160.6" font-size="24.71" font-weight="bold" textLength="126.7" lengthAdjust="spacingAndGlyphs" >CURACIÓN</text>
<rect x="2070.6" y="4146.0" width="10.4" height="11.5" fill="#ED7D31"/>
<text x="2090.5" y="4160.6" font-size="24.71" font-weight="bold" textLength="206.8" lengthAdjust="spacingAndGlyphs" >REINTERVENCION</text>
<text x="2490.5" y="3722.6" font-size="29.65" font-weight="bold" textLength="221.4" lengthAdjust="spacingAndGlyphs" >PESO ADENOMA</text>
<rect x="2407.0" y="3756.8" width="450.6" height="1.6" fill="#D9D9D9"/>
<text x="2338.5" y="3764.9" font-size="20.86" fill="#595959" >3500</text>
<rect x="2407.0" y="3806.3" width="450.6" height="1.6" fill="#D9D9D9"/>
<text x="2338.5" y="3814.4" font-size="20.86" fill="#595959" >3000</text>
<rect x="2407.0" y="3855.8" width="450.6" height="1.6" fill="#D9D9D9"/>
<text x="2338.5" y="3863.9" font-size="20.86" fill="#595959" >2500</text>
<rect x="2407.0" y="3905.3" width="450.6" height="1.6" fill="#D9D9D9"/>
<text x="2338.5" y="3913.4" font-size="20.86" fill="#595959" >2000</text>
<rect x="2407.0" y="3954.8" width="450.6" height="1.6" fill="#D9D9D9"/>
<text x="2338.5" y="3962.9" font-size="20.86" fill="#595959" >1500</text>
<rect x="2407.0" y="4004.3" width="450.6" height="1.6" fill="#D9D9D9"/>
<text x="2338.5" y="4012.4" font-size="20.86" fill="#595959" >1000</text>
<rect x="2407.0" y="4053.8" width="450.6" height="1.6" fill="#D9D9D9"/>
<text x="2350.2" y="4061.9" font-size="20.86" fill="#595959" >500</text>
<rect x="2407.0" y="4103.3" width="450.6" height="1.6" fill="#D9D9D9"/>
<text x="2373.4" y="4111.4" font-size="20.86" fill="#595959" >0</text>
<rect x="2518.0" y="3805.2" width="101.0" height="298.9" fill="#5B9BD5"/>
<rect x="2646.2" y="3990.2" width="101.1" height="113.9" fill="#ED7D31"/>
<text x="2543.4" y="3962.8" font-size="21.43" fill="#1a1a1a" textLength="49.7" lengthAdjust="spacingAndGlyphs" >3022</text>
<text x="2672.4" y="4055.5" font-size="21.43" font-weight="bold" fill="#404040" textLength="48.7" lengthAdjust="spacingAndGlyphs" >1153</text>
<rect x="2420.5" y="4144.0" width="15.1" height="15.0" fill="#5B9BD5"/>
<text x="2443.0" y="4159.9" font-size="24.71" font-weight="bold" textLength="107.8" lengthAdjust="spacingAndGlyphs" >ATÍPICOS</text>
<rect x="2582.9" y="4144.0" width="15.1" height="15.0" fill="#ED7D31"/>
<text x="2606.6" y="4159.9" font-size="24.71" font-weight="bold" textLength="185.0" lengthAdjust="spacingAndGlyphs" >TRADICIONALES</text>
<g transform="translate(250 25) scale(0.15263)" fill="#13294B" fill-rule="evenodd"><path d="M665 135C600 75 510 45 420 45C200 45 55 230 55 520C55 730 190 868 375 868C555 868 690 745 690 595C690 445 570 335 430 335C360 335 300 355 262 385C275 285 360 215 460 215C500 215 540 240 570 290ZM263 595A112 105 0 1 0 487 595A112 105 0 1 0 263 595Z"/><path transform="translate(725 0)" d="M665 135C600 75 510 45 420 45C200 45 55 230 55 520C55 730 190 868 375 868C555 868 690 745 690 595C690 445 570 335 430 335C360 335 300 355 262 385C275 285 360 215 460 215C500 215 540 240 570 290ZM263 595A112 105 0 1 0 487 595A112 105 0 1 0 263 595Z"/></g>
<text x="480.5" y="66.8" font-size="47.38" fill="#1D2A5E" textLength="282.6" lengthAdjust="spacingAndGlyphs" >CONGRESO</text>
<text x="478.8" y="156.2" font-size="102.47" font-weight="bold" fill="#1C2B68" textLength="288.4" lengthAdjust="spacingAndGlyphs" stroke="#1C2B68" stroke-width="3">SEEN</text>
<text x="258.1" y="187.5" font-size="17.88" font-weight="bold" fill="#22303F" textLength="502.7" lengthAdjust="spacingAndGlyphs" >SOCIEDAD ESPAÑOLA DE ENDOCRINOLOGÍA Y NUTRICIÓN</text>
<text x="251.9" y="275.5" font-size="101.02" font-family="Liberation Serif" fill="#1D2A5E" textLength="510.0" lengthAdjust="spacingAndGlyphs" >GRANADA</text>
<text x="256.5" y="327.4" font-size="40.70" fill="#1D2A5E" textLength="503.2" lengthAdjust="spacingAndGlyphs" >15-17 OCTUBRE de 2025</text>
<defs><clipPath id="hdr"><polygon points="1678.4,0 2948,0 2948,365 1886,365 1958,248 1940,209 1843,178.2 1777.6,205.3 1746,144.4 1647.9,110.6"/></clipPath><filter id="blur1" x="-5%" y="-5%" width="110%" height="110%"><feGaussianBlur stdDeviation="6"/></filter></defs>
<g clip-path="url(#hdr)">
<g filter="url(#blur1)">
<polygon points="1600,-20 2960,-20 2960,380 1600,380" fill="#7a7046"/>
<polygon points="1640,-20 1800,-20 1800,150 1640,120" fill="#9A8A8E"/>
<polygon points="1680,0 1760,0 1770,60 1690,70" fill="#C9AA9C"/>
<polygon points="1700,60 1790,55 1790,130 1720,140" fill="#7E7290"/>
<polygon points="1790,-20 2000,-20 2000,45 1900,55 1790,45" fill="#2C8AC4"/>
<polygon points="2000,-20 2130,-20 2130,60 2000,50" fill="#2F7FB8"/>
<polygon points="2130,-20 2290,-20 2290,70 2130,65" fill="#2867A8"/>
<polygon points="1872,-20 1892,-20 1895,80 1868,80" fill="#3D4630"/>
<polygon points="1942,-20 1966,-20 1975,100 1940,100" fill="#3D4630"/>
<polygon points="1790,45 1990,50 2000,200 1900,215 1800,200 1780,120" fill="#46442A"/>
<polygon points="1795,40 1835,38 1838,85 1800,88" fill="#B58A36"/>
<polygon points="1800,150 1880,160 1890,205 1805,200" fill="#8C7A34"/>
<polygon points="1900,130 1960,120 1970,160 1910,170" fill="#2F4470"/>
<polygon points="2000,50 2130,60 2130,200 2000,220" fill="#B89A82"/>
<polygon points="2130,60 2290,65 2290,110 2130,110" fill="#5D4A40"/>
<polygon points="2130,110 2290,110 2290,235 2130,230" fill="#DFA68B"/>
<polygon points="2200,150 2290,150 2290,200 2200,200" fill="#EBBBA2"/>
<polygon points="2288,-20 2392,-20 2392,245 2290,245" fill="#E8CCC1"/>
<polygon points="2392,-20 2600,-20 2600,230 2392,235" fill="#D9A892"/>
<polygon points="2440,-20 2600,-20 2600,40 2440,30" fill="#BCD6E2"/>
<polygon points="2600,-20 2820,-20 2820,140 2600,140" fill="#E6E1E2"/>
<polygon points="2820,-20 2960,-20 2960,90 2820,85" fill="#C4DBE4"/>
<polygon points="2820,85 2960,90 2960,220 2820,210" fill="#D8A386"/>
<polygon points="2600,130 2820,130 2820,215 2600,220" fill="#E3C0AE"/>
<polygon points="1880,230 2130,235 2300,245 2400,240 2600,215 2750,160 2820,205 2960,215 2960,380 1880,380" fill="#626A2E"/>
<polygon points="2600,210 2700,170 2760,175 2790,230 2650,255" fill="#4F5E2A"/>
<polygon points="2760,250 2840,240 2830,300 2770,300" fill="#3A5A8A"/>
<polygon points="1886,240 1980,250 2000,380 1886,380" fill="#8D7C8A"/>
<polygon points="1990,250 2130,265 2200,380 1990,380" fill="#9A8038"/>
<polygon points="2130,280 2400,300 2400,380 2130,380" fill="#7E7234"/>
<polygon points="2400,260 2600,255 2640,380 2400,380" fill="#4E5628"/>
</g></g>
<polygon points="1846.9,201.7 1938.9,232.4 1911,323 1816.2,292.3" fill="#997E6C"/>
<polygon points="1983.0,117.8 2089.6,152.4 2055.0,259.0 1948.4,224.4" fill="none" stroke="#fff" stroke-width="20" stroke-linejoin="miter"/>
<polygon points="2089.6,152.4 2196.1,187.1 2161.5,293.6 2055.0,259.0" fill="none" stroke="#fff" stroke-width="20" stroke-linejoin="miter"/>
<polygon points="2196.1,187.1 2302.6,221.7 2268.0,328.2 2161.5,293.6" fill="none" stroke="#fff" stroke-width="20" stroke-linejoin="miter"/>
<polygon points="2302.6,221.7 2409.1,256.3 2374.5,362.8 2268.0,328.2" fill="none" stroke="#fff" stroke-width="20" stroke-linejoin="miter"/>
<polygon points="2443.7,149.8 2550.2,184.4 2515.6,290.9 2409.1,256.3" fill="none" stroke="#fff" stroke-width="20" stroke-linejoin="miter"/>
<polygon points="2550.2,184.4 2656.8,219.0 2622.2,325.5 2515.6,290.9" fill="none" stroke="#fff" stroke-width="20" stroke-linejoin="miter"/>
<polygon points="2656.8,219.0 2763.3,253.6 2728.7,360.1 2622.2,325.5" fill="none" stroke="#fff" stroke-width="20" stroke-linejoin="miter"/>
<polygon points="2763.3,253.6 2869.8,288.2 2835.2,394.7 2728.7,360.1" fill="none" stroke="#fff" stroke-width="20" stroke-linejoin="miter"/>
<polygon points="2904.4,181.7 3010.9,216.3 2976.3,322.8 2869.8,288.2" fill="none" stroke="#fff" stroke-width="20" stroke-linejoin="miter"/>
<polygon points="1855.4,216.2 1922.0,237.8 1900.3,304.4 1833.8,282.8" fill="#fff"/>
<polygon points="1996.5,144.3 2063.1,165.9 2041.5,232.5 1974.9,210.9" fill="#fff"/>
<polygon points="2316.1,248.1 2382.7,269.8 2361.0,336.3 2294.5,314.7" fill="#fff"/>
<polygon points="2457.2,176.2 2523.8,197.8 2502.2,264.4 2435.6,242.8" fill="#fff"/>
<polygon points="2776.8,280.0 2843.3,301.7 2821.7,368.3 2755.1,346.6" fill="#fff"/>
<polygon points="2917.9,208.1 2984.5,229.8 2962.8,296.3 2896.3,274.7" fill="#fff"/>
<polygon points="2094.0,161.3 2293.7,226.1 2263.5,319.3 2063.8,254.5" fill="#fff"/>
<polygon points="2098.0,168.0 2187.0,200.0 2161.0,271.0 2136.0,204.0 2072.0,245.0" fill="none" stroke="#4B5232" stroke-width="14" stroke-linejoin="bevel"/>
<polygon points="2201.0,216.0 2229.0,289.0 2289.0,245.0 2265.0,321.0 2173.0,293.0" fill="none" stroke="#55602E" stroke-width="14" stroke-linejoin="bevel"/>
<polygon points="2554.7,193.2 2754.4,258.0 2724.2,351.2 2524.5,286.4" fill="#fff"/>
<polygon points="2558.7,199.9 2647.7,231.9 2621.7,302.9 2596.7,235.9 2532.7,276.9" fill="none" stroke="#4B5232" stroke-width="14" stroke-linejoin="bevel"/>
<polygon points="2661.7,247.9 2689.7,320.9 2749.7,276.9 2725.7,352.9 2633.7,324.9" fill="none" stroke="#55602E" stroke-width="14" stroke-linejoin="bevel"/>
<polygon points="2041.6,41.2 2097.7,59.4 2076.1,126.0 2020.0,107.8 2079.6,92.4" fill="#fff"/>
<polygon points="2017.0,10.1 2125.4,45.3 2090.2,153.7 1981.8,118.5 2061.6,86.6" fill="none" stroke="#fff" stroke-width="16" stroke-linejoin="miter" stroke-miterlimit="2.5"/>
<polygon points="2502.3,73.1 2558.4,91.3 2536.8,157.9 2480.7,139.7 2540.3,124.4" fill="#fff"/>
<polygon points="2477.7,42.0 2586.1,77.2 2550.9,185.6 2442.5,150.4 2522.2,118.5" fill="none" stroke="#fff" stroke-width="16" stroke-linejoin="miter" stroke-miterlimit="2.5"/>
</svg>
</body></html>
